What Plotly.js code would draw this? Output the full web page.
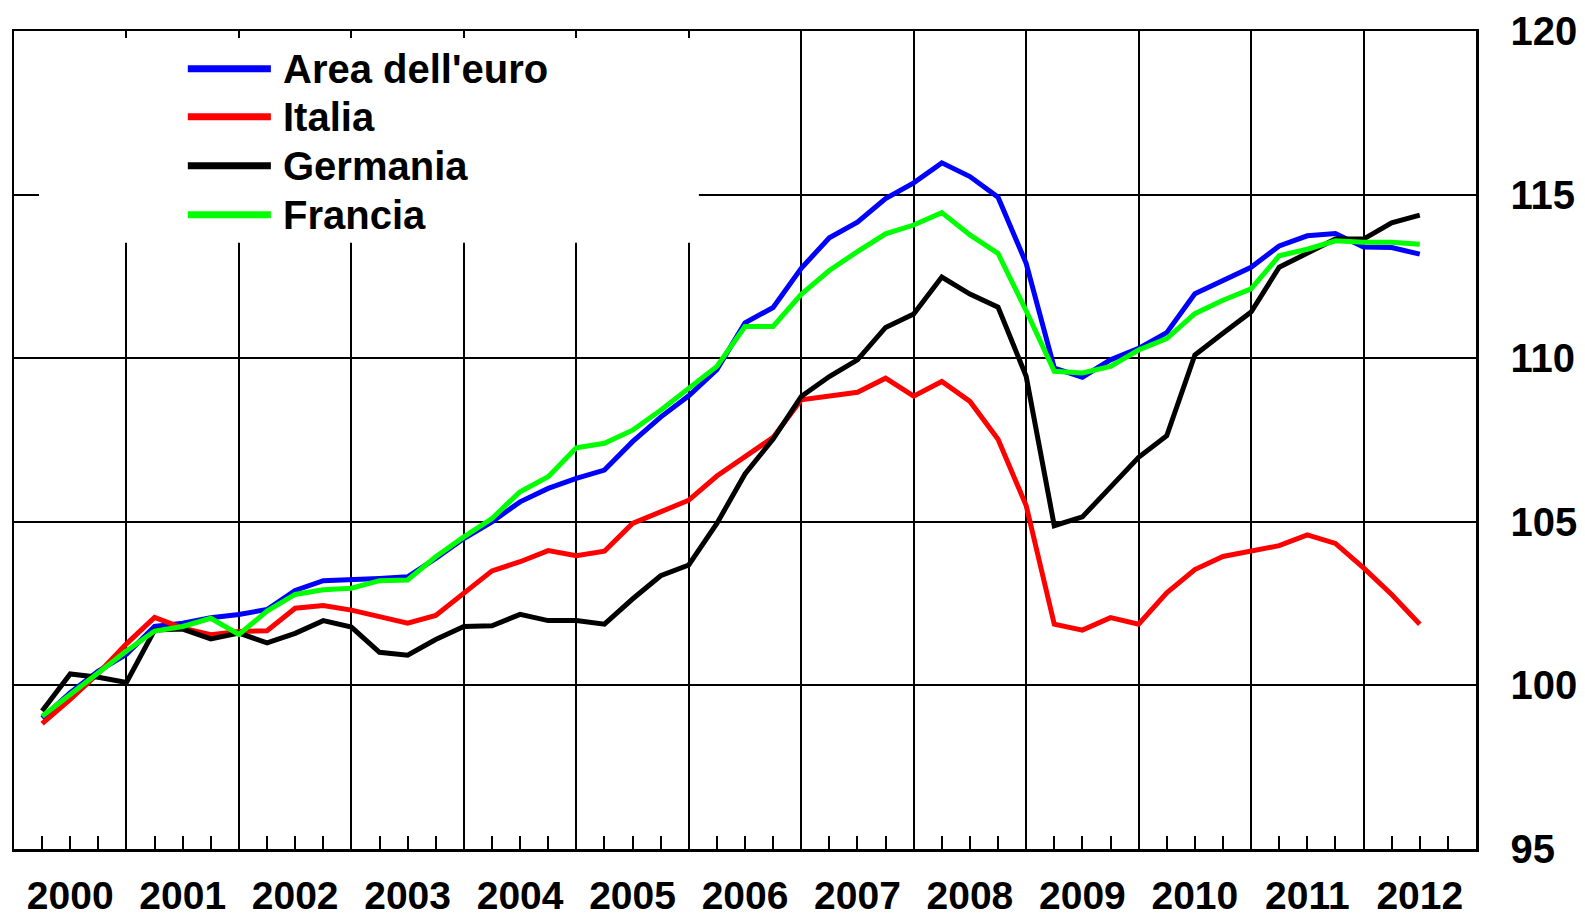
<!DOCTYPE html>
<html><head><meta charset="utf-8">
<script src="https://cdn.plot.ly/plotly-3.0.1.min.js"></script>
<style>html,body{margin:0;padding:0;background:#fff}#chart{width:1585px;height:919px}</style>
</head><body><div id="chart"></div>
<script>
const quarters = [
  "2000-T1","2000-T2","2000-T3","2000-T4","2001-T1","2001-T2","2001-T3","2001-T4",
  "2002-T1","2002-T2","2002-T3","2002-T4","2003-T1","2003-T2","2003-T3","2003-T4",
  "2004-T1","2004-T2","2004-T3","2004-T4","2005-T1","2005-T2","2005-T3","2005-T4",
  "2006-T1","2006-T2","2006-T3","2006-T4","2007-T1","2007-T2","2007-T3","2007-T4",
  "2008-T1","2008-T2","2008-T3","2008-T4","2009-T1","2009-T2","2009-T3","2009-T4",
  "2010-T1","2010-T2","2010-T3","2010-T4","2011-T1","2011-T2","2011-T3","2011-T4",
  "2012-T1","2012-T2"
];
const areaEuro = [99.0,99.78,100.44,100.95,101.8,101.9,102.07,102.17,102.32,102.9,103.2,103.22,
  103.27,103.32,103.88,104.49,105.0,105.61,106.02,106.33,106.58,107.45,108.2,108.85,
  109.65,111.08,111.55,112.75,113.68,114.16,114.88,115.36,115.97,115.55,114.92,112.9,
  109.7,109.42,109.95,110.3,110.78,111.97,112.37,112.78,113.43,113.74,113.81,113.4,113.38,113.18];
const italia = [98.83,99.57,100.37,101.27,102.08,101.75,101.55,101.65,101.67,102.36,102.44,102.3,
  102.1,101.9,102.14,102.83,103.5,103.78,104.12,103.96,104.1,104.95,105.3,105.66,
  106.4,107.0,107.58,108.73,108.84,108.96,109.39,108.84,109.29,108.68,107.52,105.5,
  101.87,101.69,102.07,101.87,102.83,103.54,103.94,104.11,104.27,104.6,104.34,103.59,102.78,101.87];
const germania = [99.22,100.35,100.25,100.09,101.69,101.72,101.42,101.6,101.3,101.59,101.98,101.78,
  101.01,100.92,101.4,101.8,101.82,102.17,101.98,101.98,101.87,102.64,103.35,103.68,
  104.95,106.46,107.53,108.83,109.44,109.95,110.94,111.35,112.48,111.96,111.56,109.45,
  104.88,105.15,106.06,106.97,107.63,110.1,110.76,111.41,112.78,113.23,113.64,113.64,114.14,114.37];
const francia = [99.06,99.72,100.39,101.05,101.66,101.8,102.05,101.56,102.27,102.78,102.92,102.97,
  103.2,103.22,103.93,104.54,105.1,105.92,106.38,107.26,107.4,107.8,108.41,109.1,
  109.75,110.97,110.97,111.95,112.68,113.26,113.8,114.07,114.45,113.77,113.2,111.45,
  109.6,109.55,109.75,110.25,110.6,111.36,111.77,112.12,113.13,113.33,113.59,113.54,113.54,113.48];
const yearLabels = ["2000","2001","2002","2003","2004","2005","2006","2007","2008","2009","2010","2011","2012"];
const seriesNames = ["Area dell'euro","Italia","Germania","Francia"];
const seriesColors = ["#0000ff","#ff0000","#000000","#00ff00"];
const yTicks = [95,100,105,110,115,120];

const seriesValues = [areaEuro, italia, germania, francia];
const xPos = quarters.map(q => { const p = q.split('-T'); return Number(p[0]) + Number(p[1]) * 0.25; });
const yearNums = yearLabels.map(Number);
const xMin = yearNums[0], xMax = yearNums[yearNums.length - 1] + 1;
const yMin = yTicks[0], yMax = yTicks[yTicks.length - 1];

const FONT = "'Liberation Sans', Arial, sans-serif";
const tickFont = {family: FONT, size: 40, color: '#000', weight: 'bold'};
const xTickFont = {family: FONT, size: 39, color: '#000', weight: 'bold'};

const traces = seriesValues.map((vals, i) => ({
  type: 'scatter', mode: 'lines', x: xPos, y: vals, name: seriesNames[i],
  line: {color: seriesColors[i], width: 5}, showlegend: false, hoverinfo: 'skip'
}));
// helper traces so the overlay axes are drawn
traces.push({type:'scatter', mode:'lines', x:[null], y:[null], xaxis:'x2', yaxis:'y', showlegend:false, hoverinfo:'skip'});
traces.push({type:'scatter', mode:'lines', x:[null], y:[null], xaxis:'x3', yaxis:'y2', showlegend:false, hoverinfo:'skip'});

// custom legend (long thick sample lines)
const legX0 = 0.1189, legX1 = 0.1757, legTx = 0.1826;
const legY = [0.9539, 0.8952, 0.8353, 0.7753];
const shapes = [{
  type: 'rect', xref: 'x', yref: 'y', x0: xMin, x1: 2006.09, y0: 113.53, y1: yMax,
  fillcolor: '#ffffff', line: {width: 0}, layer: 'between'
}];
const annotations = [];
seriesNames.forEach((n, i) => {
  shapes.push({type: 'line', xref: 'paper', yref: 'paper', x0: legX0, x1: legX1, y0: legY[i], y1: legY[i],
    line: {color: seriesColors[i], width: 7}, layer: 'above'});
  annotations.push({xref: 'paper', yref: 'paper', x: legTx, y: legY[i], xanchor: 'left', yanchor: 'middle',
    text: n, showarrow: false, font: {family: FONT, size: 40, color: '#000', weight: 'bold'}});
});

const layout = {
  width: 1585, height: 919,
  margin: {l: 14, r: 109, t: 31, b: 70, pad: 0},
  paper_bgcolor: '#fff', plot_bgcolor: '#fff',
  showlegend: false,
  xaxis: {
    range: [xMin, xMax], tickmode: 'linear', tick0: xMin, dtick: 1,
    showgrid: true, gridcolor: '#000', gridwidth: 2, zeroline: false,
    ticks: 'inside', ticklen: 13, tickwidth: 2, tickcolor: '#000', showticklabels: false,
    minor: {tick0: xMin, dtick: 0.25, ticks: 'inside', ticklen: 13, tickwidth: 2, tickcolor: '#000', showgrid: false},
    showline: true, linecolor: '#000', linewidth: 2.5, mirror: true, fixedrange: true
  },
  xaxis2: {
    overlaying: 'x', anchor: 'y', side: 'bottom', range: [xMin, xMax],
    tickmode: 'array', tickvals: yearNums.map(v => v + 0.5), ticktext: yearLabels,
    ticks: '', showgrid: false, zeroline: false, showline: false,
    tickfont: xTickFont, ticklabelstandoff: 20, fixedrange: true
  },
  xaxis3: {
    overlaying: 'x', anchor: 'y', side: 'top', range: [xMin, xMax],
    tickmode: 'linear', tick0: xMin, dtick: 1, ticks: 'inside', ticklen: 7, tickwidth: 2, tickcolor: '#000',
    showticklabels: false, showgrid: false, zeroline: false, showline: false, fixedrange: true
  },
  yaxis: {
    range: [yMin, yMax], side: 'right', tickmode: 'array', tickvals: yTicks,
    showgrid: true, gridcolor: '#000', gridwidth: 2, zeroline: false,
    ticks: '', tickfont: tickFont, ticklabelstandoff: 24,
    showline: true, linecolor: '#000', linewidth: 2.5, mirror: true, fixedrange: true
  },
  yaxis2: {
    overlaying: 'y', anchor: 'x', side: 'left', range: [yMin, yMax],
    tickmode: 'array', tickvals: yTicks, ticks: 'inside', ticklen: 25, tickwidth: 2, tickcolor: '#000',
    showticklabels: false, showgrid: false, zeroline: false, showline: false, fixedrange: true
  },
  shapes: shapes,
  annotations: annotations
};

Plotly.newPlot('chart', traces, layout, {staticPlot: true, displayModeBar: false});
</script>
</body></html>
